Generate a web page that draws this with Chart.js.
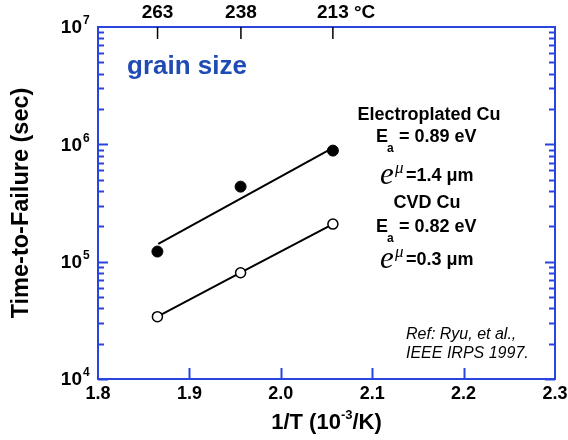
<!DOCTYPE html>
<html>
<head>
<meta charset="utf-8">
<script src="https://cdn.jsdelivr.net/npm/chart.js@4.4.0/dist/chart.umd.min.js"></script>
<style>
html, body { margin: 0; padding: 0; background: #fff; }
#wrap { width: 568px; height: 440px; }
</style>
</head>
<body>
<div id="wrap"><canvas id="c" width="568" height="440"></canvas></div>
<script>
// 1/T (10^-3/K) of the three test temperatures
const invT = [1.865, 1.956, 2.057];
// time-to-failure (sec)
const epTTF = [1.22e5, 4.36e5, 8.84e5];   // electroplated Cu, filled
const cvdTTF = [3.4e4, 8.05e4, 2.09e5];   // CVD Cu, open
// fitted line for electroplated Cu
const epFitX = [1.866, 2.058];
const epFitY = [1.42e5, 9.44e5];
// axes
const xTicks = [1.8, 1.9, 2.0, 2.1, 2.2, 2.3];
const yDecades = [4, 5, 6, 7];
const tempC = [263, 238, 213];

const BLUE = '#2a44e0';
const FONT = '"Liberation Sans", Arial, Helvetica, sans-serif';
const SERIF = '"Liberation Serif", "Times New Roman", serif';

const toPts = (xs, ys) => xs.map((x, i) => ({ x: x, y: ys[i] }));

// ticks, labels and notes
const decorPlugin = {
    id: 'decor',
    afterDraw: function(chart) {
        const ctx = chart.ctx;
        const xs = chart.scales.x;
        const ys = chart.scales.y;
        const a = chart.chartArea;
        ctx.save();

        // inner ticks on left / right (log)
        ctx.strokeStyle = BLUE;
        ctx.lineWidth = 2;
        for (let d = 4; d < 7; d++) {
            for (let m = 1; m <= 9; m++) {
                const py = Math.round(ys.getPixelForValue(m * Math.pow(10, d))) + 0.5;
                const len = m === 1 ? 10 : 6;
                ctx.beginPath();
                ctx.moveTo(a.left, py); ctx.lineTo(a.left + len, py);
                ctx.moveTo(a.right, py); ctx.lineTo(a.right - len, py);
                ctx.stroke();
            }
        }
        // bottom ticks
        xTicks.slice(1, -1).forEach(t => {
            const px = Math.round(xs.getPixelForValue(t)) + 0.5;
            ctx.beginPath();
            ctx.moveTo(px, a.bottom); ctx.lineTo(px, a.bottom - 11);
            ctx.stroke();
        });

        // x tick labels
        ctx.fillStyle = '#000';
        ctx.textBaseline = 'middle';
        ctx.textAlign = 'center';
        ctx.font = 'bold 18px ' + FONT;
        xTicks.forEach(t => {
            ctx.fillText(t.toFixed(1), xs.getPixelForValue(t), a.bottom + 15);
        });

        // top temperature axis
        ctx.strokeStyle = '#000';
        ctx.lineWidth = 1.5;
        ctx.font = 'bold 19px ' + FONT;
        tempC.forEach((t, i) => {
            const px = xs.getPixelForValue(1000 / (t + 273.15));
            ctx.beginPath();
            ctx.moveTo(px, a.top); ctx.lineTo(px, a.top + 12);
            ctx.stroke();
            ctx.textAlign = 'center';
            ctx.fillText(String(t), px, 13);
            if (i === tempC.length - 1) {
                const w = ctx.measureText(String(t)).width;
                ctx.textAlign = 'left';
                ctx.fillText(' \u00b0C', px + w / 2, 13);
            }
        });

        // y tick labels 10^n
        yDecades.forEach(d => {
            const py = ys.getPixelForValue(Math.pow(10, d));
            ctx.textAlign = 'right';
            ctx.font = 'bold 19px ' + FONT;
            ctx.fillText('10', 82, py + 1);
            ctx.textAlign = 'left';
            ctx.font = 'bold 12px ' + FONT;
            ctx.fillText(String(d), 83, py - 6);
        });

        // y title
        ctx.save();
        ctx.translate(22, (a.top + a.bottom) / 2);
        ctx.rotate(-Math.PI / 2);
        ctx.textAlign = 'center';
        ctx.font = 'bold 23.5px ' + FONT;
        ctx.fillText('Time-to-Failure (sec)', 0, 0);
        ctx.restore();

        // x title with superscript
        const cx = (a.left + a.right) / 2;
        ctx.font = 'bold 22px ' + FONT;
        const p1 = '1/T (10', p3 = '/K)';
        const w1 = ctx.measureText(p1).width, w3 = ctx.measureText(p3).width;
        ctx.font = 'bold 13px ' + FONT;
        const w2 = ctx.measureText('-3').width;
        let x0 = cx - (w1 + w2 + w3) / 2;
        ctx.textAlign = 'left';
        ctx.font = 'bold 22px ' + FONT;
        ctx.fillText(p1, x0, 423);
        ctx.font = 'bold 13px ' + FONT;
        ctx.fillText('-3', x0 + w1, 415);
        ctx.font = 'bold 22px ' + FONT;
        ctx.fillText(p3, x0 + w1 + w2, 423);

        // grain size
        ctx.fillStyle = '#1f4bb4';
        ctx.font = 'bold 26px ' + FONT;
        ctx.fillText('grain size', 127, 67);

        // annotations
        ctx.fillStyle = '#000';
        ctx.textAlign = 'center';
        ctx.font = 'bold 18px ' + FONT;
        ctx.fillText('Electroplated Cu', 429, 115);
        ctx.fillText('CVD Cu', 427, 203);

        const drawEa = (txt, y) => {
            ctx.textAlign = 'left';
            ctx.font = 'bold 18px ' + FONT;
            ctx.fillText('E', 376, y);
            ctx.font = 'bold 12px ' + FONT;
            ctx.fillText('a', 387, y + 12);
            ctx.font = 'bold 18px ' + FONT;
            ctx.fillText(' = ' + txt + ' eV', 394, y);
        };
        drawEa('0.89', 137);
        drawEa('0.82', 227);

        const drawSize = (txt, base) => {
            ctx.textAlign = 'left';
            ctx.textBaseline = 'alphabetic';
            ctx.font = 'italic 31px ' + SERIF;
            ctx.fillText('e', 380, base);
            ctx.font = 'italic 17px ' + SERIF;
            ctx.fillText('\u03bc', 395, base - 11);
            ctx.textBaseline = 'middle';
            ctx.font = 'bold 18px ' + FONT;
            ctx.fillText('=' + txt + ' \u03bcm', 406, base - 8);
        };
        drawSize('1.4', 184);
        drawSize('0.3', 268);

        // reference
        ctx.font = 'italic 16px ' + FONT;
        ctx.textAlign = 'left';
        ctx.fillText('Ref: Ryu, et al.,', 406, 335);
        ctx.fillText('IEEE IRPS 1997.', 406, 354);

        ctx.restore();
    }
};

new Chart(document.getElementById('c'), {
    type: 'scatter',
    data: {
        datasets: [
            {
                label: 'Electroplated Cu',
                data: toPts(invT, epTTF),
                pointRadius: 5.5,
                pointBackgroundColor: '#000',
                pointBorderColor: '#000',
                showLine: false
            },
            {
                label: 'Electroplated fit',
                data: toPts(epFitX, epFitY),
                showLine: true,
                pointRadius: 0,
                borderColor: '#000',
                borderWidth: 2
            },
            {
                label: 'CVD Cu',
                data: toPts(invT, cvdTTF),
                showLine: true,
                borderColor: '#000',
                borderWidth: 2,
                pointRadius: 5,
                pointBackgroundColor: '#fff',
                pointBorderColor: '#000',
                pointBorderWidth: 1.5
            }
        ]
    },
    options: {
        responsive: false,
        devicePixelRatio: 1,
        animation: false,
        layout: { padding: 0 },
        plugins: { legend: { display: false }, tooltip: { enabled: false } },
        scales: {
            x: {
                type: 'linear',
                position: 'bottom',
                min: 1.8,
                max: 2.3,
                ticks: { display: false, stepSize: 0.1 },
                grid: { display: false, drawTicks: false },
                border: { display: true, color: BLUE, width: 2 },
                afterFit: s => { s.height = 61; }
            },
            x2: {
                type: 'linear',
                position: 'top',
                min: 1.8,
                max: 2.3,
                ticks: { display: false },
                grid: { display: false, drawTicks: false },
                border: { display: true, color: BLUE, width: 2 },
                afterFit: s => { s.height = 27; }
            },
            y: {
                type: 'logarithmic',
                position: 'left',
                min: 1e4,
                max: 1e7,
                ticks: { display: false },
                grid: { display: false, drawTicks: false },
                border: { display: true, color: BLUE, width: 2 },
                afterFit: s => { s.width = 98; }
            },
            y2: {
                type: 'logarithmic',
                position: 'right',
                min: 1e4,
                max: 1e7,
                ticks: { display: false },
                grid: { display: false, drawTicks: false },
                border: { display: true, color: BLUE, width: 2 },
                afterFit: s => { s.width = 13; }
            }
        }
    },
    plugins: [decorPlugin]
});
</script>
</body>
</html>
